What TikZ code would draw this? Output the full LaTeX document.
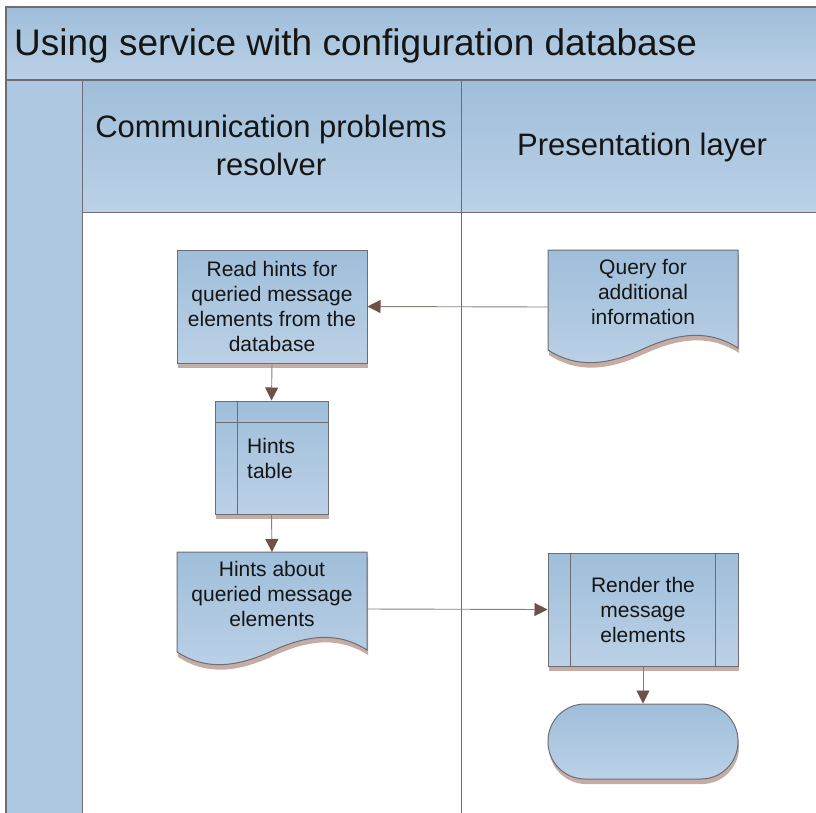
\documentclass[tikz,border=0pt]{standalone}
\usepackage{fontspec}
\setmainfont{Liberation Sans}
\usetikzlibrary{arrows.meta,shadows}
\definecolor{bluetop}{HTML}{9FBEDA}
\definecolor{bluebot}{HTML}{BBD1E6}
\definecolor{edgec}{HTML}{6E6C74}
\definecolor{shadc}{HTML}{C5ADA6}
\definecolor{arrline}{HTML}{8C7C78}
\definecolor{arrhead}{HTML}{6E5148}
\definecolor{stripec}{HTML}{ADC8E0}
\definecolor{txt}{HTML}{151515}
\begin{document}
\begin{tikzpicture}[x=1pt,y=-1pt,
  shp/.style={draw=edgec,line width=1pt,top color=bluetop,bottom color=bluebot},
  lbl/.style={font=\fontsize{21}{25}\selectfont,align=center,text=txt},
  hdr/.style={font=\fontsize{31}{38}\selectfont,align=center,text=txt},
  conn/.style={draw=arrline,line width=0.9pt,-{Triangle[length=13pt,width=13pt,color=arrhead]}},
  shd/.style={drop shadow={shadow xshift=1pt,shadow yshift=-5pt,fill=shadc,opacity=1}},
  anch/.style={inner sep=0pt,outer sep=0pt,minimum width=190pt,minimum height=114pt}]

\useasboundingbox (0,0) rectangle (816,812);
% swimlane frame
\path[top color=bluetop,bottom color=bluebot] (6,7) rectangle (822,80);
\path[top color=bluetop,bottom color=bluebot] (82,80) rectangle (822,212);
\fill[stripec] (6,80) rectangle (82,816);
\draw[edgec,line width=1.2pt] (822,7) -- (6,7) -- (6,816);
\draw[edgec,line width=1.2pt] (6,80) -- (822,80);
\draw[edgec,line width=1pt] (82,80) -- (82,816);
\draw[edgec,line width=1pt] (461,80) -- (461,816);
\draw[edgec,line width=1pt] (82,212) -- (822,212);

\node[anchor=base west,inner sep=0pt,font=\fontsize{37}{44}\selectfont,text=txt] (title) at (14,55) {Using service with configuration database};
\node[hdr] (h1) at (271,145) {Communication problems\\resolver};
\node[hdr] (h2) at (642,147) {Presentation layer};

% query document
\begin{scope}[shift={(548,250)}]
  \fill[shadc] (1,5) -- (191,5) -- (191,103) .. controls (163,85) and (133,87) .. (96,104) .. controls (59,121) and (29,123) .. (1,105) -- cycle;
  \path[shp] (0,0) -- (190,0) -- (190,98) .. controls (162,80) and (132,82) .. (95,99) .. controls (58,116) and (28,118) .. (0,100) -- cycle;
\end{scope}
\node[anch] (query) at (643,307) {};
\node[lbl] (qtext) at (643,292) {Query for\\additional\\information};

% read hints
\node[shp,shd,lbl,inner sep=0pt,minimum width=190pt,minimum height=113pt] (read) at (272,306.5) {Read hints for\\queried message\\elements from the\\database};

% hints table
\node[shp,shd,inner sep=0pt,minimum width=113pt,minimum height=113pt] (tbl) at (271.5,457.5) {};
\draw[edgec,line width=1pt] ([xshift=23pt]tbl.north west) -- ([xshift=23pt]tbl.south west);
\draw[edgec,line width=1pt] ([yshift=-22pt]tbl.north west) -- ([yshift=-22pt]tbl.north east);
\node[lbl,align=left,anchor=west,inner sep=0pt] (tbltext) at (247,458) {Hints\\table};

% hints document
\begin{scope}[shift={(177,552)}]
  \fill[shadc] (1,5) -- (191,5) -- (191,103) .. controls (163,85) and (133,87) .. (96,104) .. controls (59,121) and (29,123) .. (1,105) -- cycle;
  \path[shp] (0,0) -- (190,0) -- (190,98) .. controls (162,80) and (132,82) .. (95,99) .. controls (58,116) and (28,118) .. (0,100) -- cycle;
\end{scope}
\node[anch] (hintsdoc) at (272,609) {};
\node[lbl] (hdtext) at (272,594) {Hints about\\queried message\\elements};

% render (predefined process)
\node[shp,shd,lbl,inner sep=0pt,minimum width=190pt,minimum height=113pt] (render) at (643,609.5) {Render the\\message\\elements};
\draw[edgec,line width=1pt] ([xshift=23pt]render.north west) -- ([xshift=23pt]render.south west);
\draw[edgec,line width=1pt] ([xshift=-23pt]render.north east) -- ([xshift=-23pt]render.south east);

% terminal
\node[shp,shd,inner sep=0pt,minimum width=190pt,minimum height=75pt,rounded corners=37pt] (term) at (643,741.5) {};

% connectors
\draw[conn] (query.west) -- (read.east);
\draw[conn] (read.south) -- (tbl.north);
\draw[conn] (tbl.south) -- (hintsdoc.north);
\draw[conn] (hintsdoc.east) -- (render.west);
\draw[conn] (render.south) -- (term.north);
\end{tikzpicture}
\end{document}
